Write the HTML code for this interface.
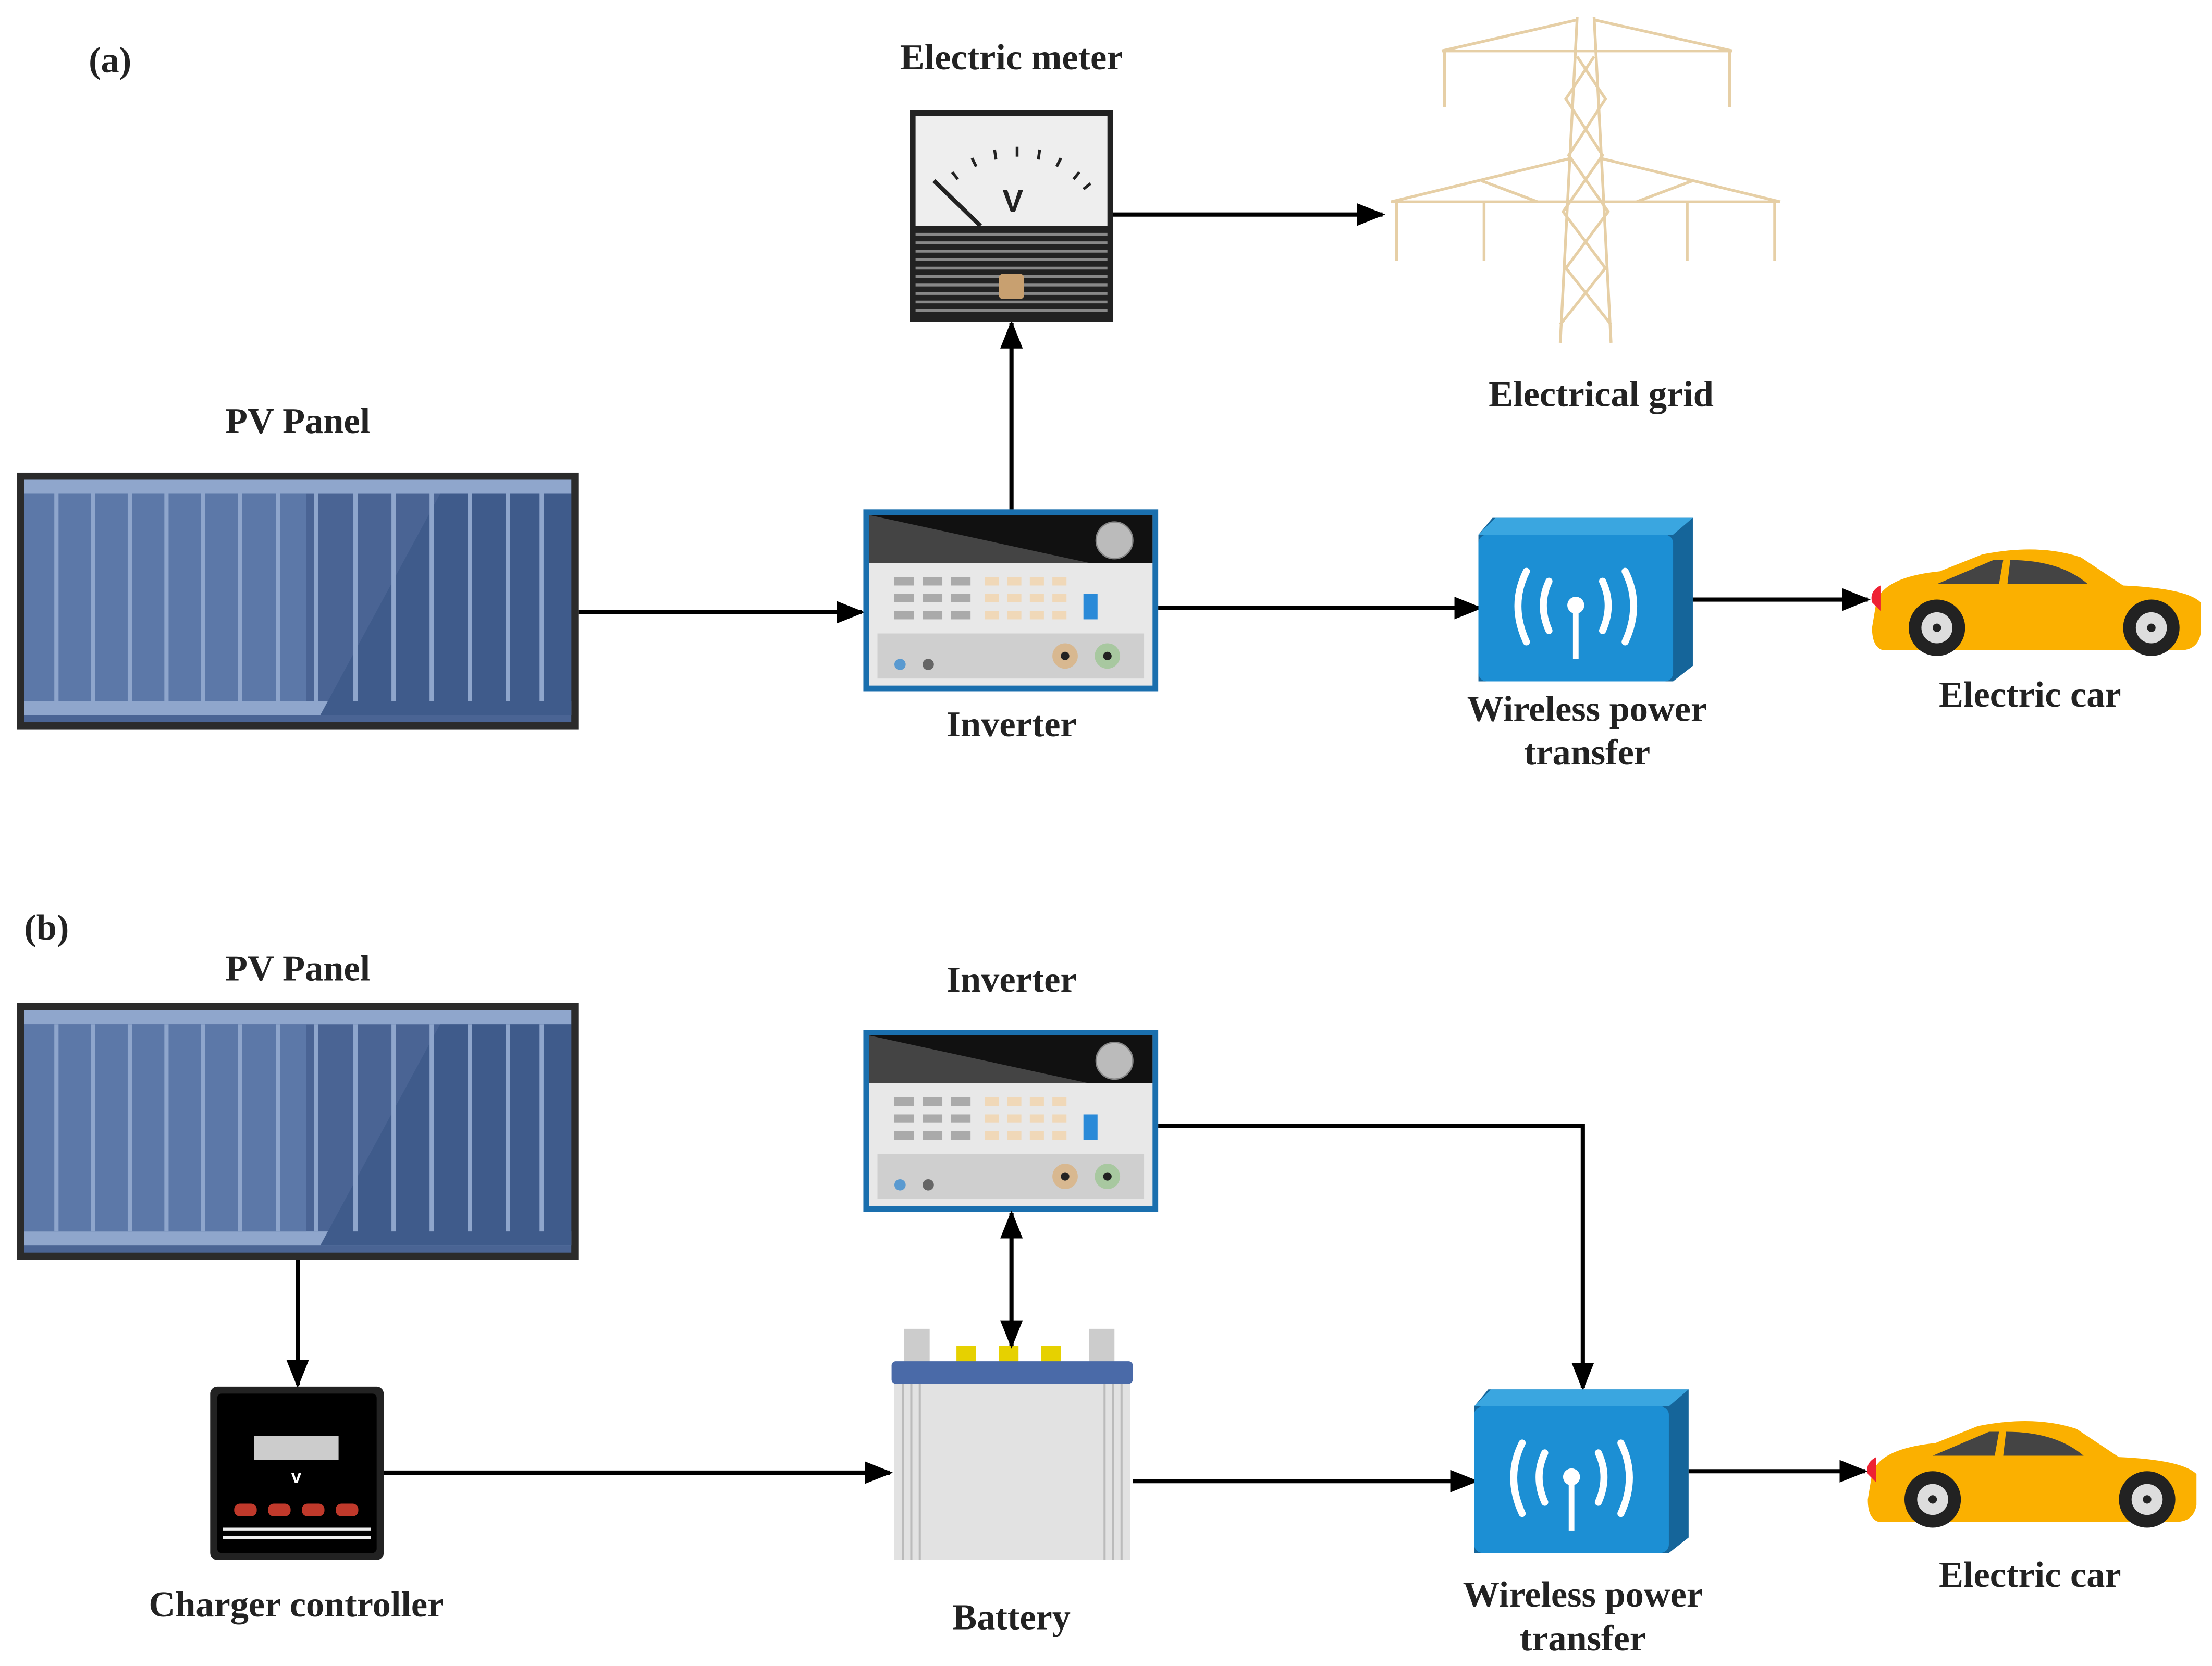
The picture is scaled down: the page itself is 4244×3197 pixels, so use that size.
<!DOCTYPE html>
<html><head><meta charset="utf-8"><style>
html,body{margin:0;padding:0;background:#fff;}
svg{display:block;}
text{font-family:"Liberation Serif",serif;font-weight:bold;font-size:26px;fill:#222;text-anchor:middle;}
</style></head><body>
<svg width="4244" height="3197" viewBox="0 0 1568 1181" xmlns="http://www.w3.org/2000/svg">
<defs>
<marker id="ah2" markerWidth="20" markerHeight="16" refX="18" refY="8" orient="auto-start-reverse" markerUnits="userSpaceOnUse" viewBox="0 0 20 16"><path d="M0,0 L20,8 L0,16 Z" fill="#000"/></marker>
<g id="pv">
<rect x="0" y="0" width="398" height="182" fill="#2b2b2b"/>
<rect x="5" y="5" width="388" height="172" fill="#4a6494"/>
<rect x="5" y="5" width="388" height="10" fill="#8fa6cc"/>
<rect x="5" y="162" width="388" height="10" fill="#8fa6cc"/>
<rect x="5" y="15" width="200" height="147" fill="#5c78a8"/>
<path d="M215,172 L300,15 L393,15 L393,172 Z" fill="#3f5b8b"/>
<g stroke="#8fa6cc" stroke-width="3">
<line x1="28" y1="15" x2="28" y2="162"/><line x1="54" y1="15" x2="54" y2="162"/><line x1="80" y1="15" x2="80" y2="162"/><line x1="106" y1="15" x2="106" y2="162"/><line x1="132" y1="15" x2="132" y2="162"/><line x1="158" y1="15" x2="158" y2="162"/><line x1="185" y1="15" x2="185" y2="162"/><line x1="212" y1="15" x2="212" y2="162"/><line x1="240" y1="15" x2="240" y2="162"/><line x1="267" y1="15" x2="267" y2="162"/><line x1="294" y1="15" x2="294" y2="162"/><line x1="321" y1="15" x2="321" y2="162"/><line x1="348" y1="15" x2="348" y2="162"/><line x1="372" y1="15" x2="372" y2="162"/>
</g>
</g>
<g id="inv">
<rect x="0" y="0" width="209" height="129" fill="#1a6fae"/>
<rect x="4" y="4" width="201" height="121" fill="#e8e8e8"/>
<rect x="4" y="4" width="201" height="34" fill="#111"/>
<path d="M4,4 L4,38 L160,38 Z" fill="#444"/>
<circle cx="178" cy="22" r="13" fill="#bbb" stroke="#888"/>
<g fill="#aaa"><rect x="22" y="48" width="14" height="6"/><rect x="42" y="48" width="14" height="6"/><rect x="62" y="48" width="14" height="6"/><rect x="22" y="60" width="14" height="6"/><rect x="42" y="60" width="14" height="6"/><rect x="62" y="60" width="14" height="6"/><rect x="22" y="72" width="14" height="6"/><rect x="42" y="72" width="14" height="6"/><rect x="62" y="72" width="14" height="6"/></g>
<g fill="#f0d8b8"><rect x="86" y="48" width="10" height="6"/><rect x="102" y="48" width="10" height="6"/><rect x="118" y="48" width="10" height="6"/><rect x="134" y="48" width="10" height="6"/><rect x="86" y="60" width="10" height="6"/><rect x="102" y="60" width="10" height="6"/><rect x="118" y="60" width="10" height="6"/><rect x="134" y="60" width="10" height="6"/><rect x="86" y="72" width="10" height="6"/><rect x="102" y="72" width="10" height="6"/><rect x="118" y="72" width="10" height="6"/><rect x="134" y="72" width="10" height="6"/></g>
<rect x="156" y="60" width="10" height="18" fill="#2a8ad8"/>
<rect x="10" y="88" width="189" height="32" fill="#cfcfcf"/>
<circle cx="26" cy="110" r="4" fill="#5a9ad0"/><circle cx="46" cy="110" r="4" fill="#666"/>
<circle cx="143" cy="104" r="9" fill="#d8b890"/><circle cx="143" cy="104" r="3" fill="#222"/>
<circle cx="173" cy="104" r="9" fill="#a8c8a0"/><circle cx="173" cy="104" r="3" fill="#222"/>
</g>
<g id="wpt">
<path d="M10,0 L152,0 L152,105 L138,116 L0,116 L0,12 Z" fill="#15659a"/>
<path d="M0,12 L12,0 L152,0 L138,12 Z" fill="#3aa6e0"/>
<rect x="0" y="12" width="138" height="104" rx="6" fill="#1c8fd4"/>
<g fill="none" stroke="#fff" stroke-width="5" stroke-linecap="round">
<path d="M50,45 Q42,62 50,80"/><path d="M88,45 Q96,62 88,80"/>
<path d="M34,38 Q22,62 34,88"/><path d="M104,38 Q116,62 104,88"/>
</g>
<circle cx="69" cy="62" r="6" fill="#fff"/><rect x="67" y="62" width="4" height="38" fill="#fff"/>
</g>
<g id="car">
<path d="M5,40 Q10,22 50,18 L80,6 Q120,-2 150,8 L180,28 Q225,30 235,40 L235,62 Q233,74 220,74 L10,74 Q2,72 2,58 Z" fill="#fbb000"/>
<path d="M48,27 L88,10 L95,10 L92,27 Z M98,27 L100,10 Q135,10 155,27 Z" fill="#444"/>
<path d="M2,40 Q0,32 8,28 L8,46 Z" fill="#e23"/>
<circle cx="48" cy="58" r="20" fill="#222"/><circle cx="48" cy="58" r="11" fill="#ddd"/><circle cx="48" cy="58" r="3" fill="#222"/>
<circle cx="200" cy="58" r="20" fill="#222"/><circle cx="200" cy="58" r="11" fill="#ddd"/><circle cx="200" cy="58" r="3" fill="#222"/>
</g>
</defs>

<text x="78" y="51">(a)</text>
<text x="33" y="666">(b)</text>

<text x="211" y="307">PV Panel</text>
<use href="#pv" x="12" y="335"/>
<line x1="410" y1="434" x2="611" y2="434" stroke="#000" stroke-width="3" marker-end="url(#ah2)"/>
<use href="#inv" x="612" y="361"/>
<text x="717" y="522">Inverter</text>
<line x1="717" y1="361" x2="717" y2="229" stroke="#000" stroke-width="3" marker-end="url(#ah2)"/>
<text x="717" y="49">Electric meter</text>
<rect x="645" y="78" width="144" height="150" fill="#222"/>
<rect x="649" y="82" width="136" height="78" fill="#eee"/>
<g stroke="#222" stroke-width="2"><line x1="675" y1="122" x2="679" y2="127"/><line x1="689" y1="112" x2="692" y2="118"/><line x1="705" y1="106" x2="706" y2="113"/><line x1="721" y1="104" x2="721" y2="111"/><line x1="737" y1="106" x2="736" y2="113"/><line x1="752" y1="112" x2="749" y2="118"/><line x1="765" y1="122" x2="761" y2="127"/><line x1="773" y1="130" x2="768" y2="134"/></g>
<line x1="662" y1="128" x2="695" y2="160" stroke="#222" stroke-width="3"/>
<text x="718" y="150" style="font-size:22px;font-family:'Liberation Sans',sans-serif">V</text>
<g stroke="#888" stroke-width="2"><line x1="649" y1="166" x2="785" y2="166"/><line x1="649" y1="172" x2="785" y2="172"/><line x1="649" y1="178" x2="785" y2="178"/><line x1="649" y1="184" x2="785" y2="184"/><line x1="649" y1="190" x2="785" y2="190"/><line x1="649" y1="196" x2="785" y2="196"/><line x1="649" y1="202" x2="785" y2="202"/><line x1="649" y1="208" x2="785" y2="208"/><line x1="649" y1="214" x2="785" y2="214"/><line x1="649" y1="220" x2="785" y2="220"/></g>
<rect x="708" y="194" width="18" height="18" rx="3" fill="#c8a070"/>
<line x1="789" y1="152" x2="980" y2="152" stroke="#000" stroke-width="3" marker-end="url(#ah2)"/>
<g stroke="#e6cfa6" stroke-width="2" fill="none">
<path d="M1118,12 L1106,243 M1130,12 L1142,243"/>
<path d="M1118,40 L1138,70 L1112,110 L1140,150 L1110,190 L1142,230 M1130,40 L1110,70 L1136,110 L1108,150 L1138,190 L1106,230"/>
<path d="M1022,36 L1228,36 M1022,36 L1118,14 M1228,36 L1130,14"/>
<path d="M986,143 L1262,143 M986,143 L1114,112 M1262,143 L1134,112 M1050,128 L1090,143 M1200,128 L1160,143"/>
<path d="M1024,36 L1024,76 M1226,36 L1226,76 M990,143 L990,185 M1052,143 L1052,185 M1196,143 L1196,185 M1258,143 L1258,185"/>
</g>
<text x="1135" y="288">Electrical grid</text>
<line x1="821" y1="431" x2="1049" y2="431" stroke="#000" stroke-width="3" marker-end="url(#ah2)"/>
<use href="#wpt" x="1048" y="367"/>
<text x="1125" y="511">Wireless power</text>
<text x="1125" y="542">transfer</text>
<line x1="1200" y1="425" x2="1324" y2="425" stroke="#000" stroke-width="3" marker-end="url(#ah2)"/>
<use href="#car" x="1325" y="387"/>
<text x="1439" y="501">Electric car</text>

<text x="211" y="695">PV Panel</text>
<use href="#pv" x="12" y="711"/>
<line x1="211" y1="893" x2="211" y2="982" stroke="#000" stroke-width="3" marker-end="url(#ah2)"/>
<rect x="149" y="983" width="123" height="123" rx="5" fill="#222"/>
<rect x="154" y="988" width="113" height="113" rx="3" fill="#000"/>
<rect x="180" y="1018" width="60" height="17" fill="#ccc"/>
<text x="210" y="1051" style="font-size:13px;fill:#fff;font-family:'Liberation Sans',sans-serif">v</text>
<g fill="#c0392b"><rect x="166" y="1066" width="16" height="9" rx="4"/><rect x="190" y="1066" width="16" height="9" rx="4"/><rect x="214" y="1066" width="16" height="9" rx="4"/><rect x="238" y="1066" width="16" height="9" rx="4"/></g>
<line x1="158" y1="1084" x2="263" y2="1084" stroke="#eee" stroke-width="2"/><line x1="158" y1="1090" x2="263" y2="1090" stroke="#eee" stroke-width="2"/>
<text x="210" y="1146">Charger controller</text>
<line x1="272" y1="1044" x2="631" y2="1044" stroke="#000" stroke-width="3" marker-end="url(#ah2)"/>
<rect x="641" y="942" width="18" height="24" fill="#ccc"/><rect x="772" y="942" width="18" height="24" fill="#ccc"/>
<g fill="#e6d100"><rect x="678" y="954" width="14" height="12"/><rect x="708" y="954" width="14" height="12"/><rect x="738" y="954" width="14" height="12"/></g>
<rect x="632" y="965" width="171" height="16" rx="3" fill="#4a6aa8"/>
<rect x="634" y="981" width="167" height="125" fill="#e2e2e2"/>
<g stroke="#bbb" stroke-width="1.5"><line x1="640" y1="981" x2="640" y2="1106"/><line x1="646" y1="981" x2="646" y2="1106"/><line x1="652" y1="981" x2="652" y2="1106"/><line x1="783" y1="981" x2="783" y2="1106"/><line x1="789" y1="981" x2="789" y2="1106"/><line x1="795" y1="981" x2="795" y2="1106"/></g>
<text x="717" y="1155">Battery</text>
<use href="#inv" x="612" y="730"/>
<text x="717" y="703">Inverter</text>
<line x1="717" y1="860" x2="717" y2="954" stroke="#000" stroke-width="3" marker-start="url(#ah2)" marker-end="url(#ah2)"/>
<polyline points="821,798 1122,798 1122,984" fill="none" stroke="#000" stroke-width="3" marker-end="url(#ah2)"/>
<line x1="803" y1="1050" x2="1046" y2="1050" stroke="#000" stroke-width="3" marker-end="url(#ah2)"/>
<use href="#wpt" x="1045" y="985"/>
<text x="1122" y="1139">Wireless power</text>
<text x="1122" y="1170">transfer</text>
<line x1="1197" y1="1043" x2="1322" y2="1043" stroke="#000" stroke-width="3" marker-end="url(#ah2)"/>
<use href="#car" x="1322" y="1005"/>
<text x="1439" y="1125">Electric car</text>
</svg>
</body></html>
